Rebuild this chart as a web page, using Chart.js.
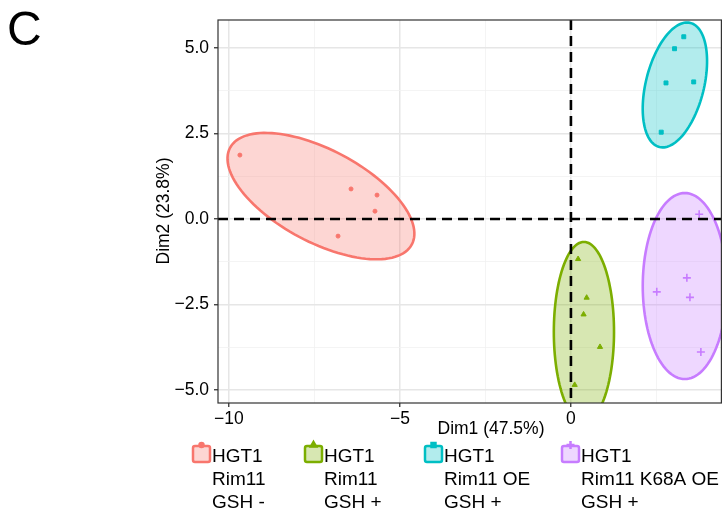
<!DOCTYPE html>
<html lang="en">
<head>
  <meta charset="UTF-8">
  <title>PCA individuals</title>
  <script src="https://cdn.jsdelivr.net/npm/chart.js"></script>
  <style>
    html, body {
      margin: 0;
      padding: 0;
      background: #fff;
      overflow: hidden;
    }
    .wrap {
      position: relative;
      width: 727px;
      height: 510px;
    }
    .panel-tag {
      position: absolute;
      left: 7px;
      top: 1px;
      font: 48px 'Liberation Sans', Arial, sans-serif;
      color: #000;
    }
    canvas { display: block; }
  </style>
</head>
<body>
  <div class="wrap">
    <div class="panel-tag">C</div>
    <canvas id="pca" width="727" height="510"></canvas>
  </div>

  <script>
    // Individuals (Dim1, Dim2) per group
    const rim11MinusX = [-9.68, -6.43, -5.67, -5.73, -6.81];
    const rim11MinusY = [1.87, 0.88, 0.70, 0.23, -0.50];
    const rim11PlusX  = [0.21, 0.46, 0.37, 0.85, 0.11];
    const rim11PlusY  = [-1.17, -2.30, -2.79, -3.74, -4.85];
    const rim11OEX    = [3.30, 3.03, 2.78, 3.59, 2.64];
    const rim11OEY    = [5.33, 4.98, 3.98, 4.01, 2.54];
    const k68aOEX     = [3.75, 3.39, 2.51, 3.48, 3.80];
    const k68aOEY     = [0.14, -1.72, -2.13, -2.29, -3.89];

    // Confidence ellipses: centre, semi-axes, angle of major axis (deg)
    const ellipseCx    = [-7.31, 0.38, 3.04, 3.33];
    const ellipseCy    = [0.67, -3.30, 3.92, -1.96];
    const ellipseA     = [3.01, 2.63, 1.87, 2.72];
    const ellipseB     = [1.35, 0.88, 0.85, 1.23];
    const ellipseAngle = [-28, 90, 76, 90];

    const legendLines = [
      ['HGT1', 'Rim11', 'GSH -'],
      ['HGT1', 'Rim11', 'GSH +'],
      ['HGT1', 'Rim11 OE', 'GSH +'],
      ['HGT1', 'Rim11 K68A OE', 'GSH +']
    ];

    const xTicks = [-10, -7.5, -5, -2.5, 0, 2.5];
    const xMajor = [-10, -5, 0];
    const xTickLabels = ['\u221210', '\u22125', '0'];
    const yTicks = [-5, -3.75, -2.5, -1.25, 0, 1.25, 2.5, 3.75, 5];
    const yMajor = [-5, -2.5, 0, 2.5, 5];
    const yTickLabels = ['\u22125.0', '\u22122.5', '0.0', '2.5', '5.0'];

    const colors = ['#F8766D', '#7CAE00', '#00BFC4', '#C77CFF'];
    const fills = ['rgba(248,118,109,0.3)', 'rgba(124,174,0,0.3)', 'rgba(0,191,196,0.3)', 'rgba(199,124,255,0.3)'];
    const styles = ['circle', 'triangle', 'rect', 'cross'];
    const radii = [2, 3, 2.8, 4];

    const FONT = "'Liberation Sans', Arial, Helvetica, sans-serif";

    const toPts = (xs, ys) => xs.map((x, i) => ({ x: x, y: ys[i] }));
    const seriesX = [rim11MinusX, rim11PlusX, rim11OEX, k68aOEX];
    const seriesY = [rim11MinusY, rim11PlusY, rim11OEY, k68aOEY];

    const datasets = seriesX.map((xs, i) => ({
      label: legendLines[i].join(' '),
      data: toPts(xs, seriesY[i]),
      pointStyle: styles[i],
      pointRadius: radii[i],
      pointBackgroundColor: colors[i],
      pointBorderColor: colors[i],
      pointBorderWidth: i === 3 ? 1.6 : 1
    }));

    const legendX = [193, 305, 425, 562];

    const decor = {
      id: 'pcaDecor',
      beforeDatasetsDraw(chart) {
        const { ctx, chartArea: a, scales: { x, y } } = chart;
        ctx.save();
        ctx.beginPath();
        ctx.rect(a.left, a.top, a.right - a.left, a.bottom - a.top);
        ctx.clip();
        for (let g = 0; g < ellipseCx.length; g++) {
          const th = ellipseAngle[g] * Math.PI / 180;
          ctx.beginPath();
          for (let k = 0; k <= 120; k++) {
            const t = k / 120 * 2 * Math.PI;
            const dx = ellipseA[g] * Math.cos(t) * Math.cos(th) - ellipseB[g] * Math.sin(t) * Math.sin(th);
            const dy = ellipseA[g] * Math.cos(t) * Math.sin(th) + ellipseB[g] * Math.sin(t) * Math.cos(th);
            const px = x.getPixelForValue(ellipseCx[g] + dx);
            const py = y.getPixelForValue(ellipseCy[g] + dy);
            if (k === 0) ctx.moveTo(px, py); else ctx.lineTo(px, py);
          }
          ctx.closePath();
          ctx.fillStyle = fills[g];
          ctx.fill();
          ctx.lineWidth = 2.6;
          ctx.strokeStyle = colors[g];
          ctx.stroke();
        }
        ctx.restore();
      },
      afterDatasetsDraw(chart) {
        const { ctx, chartArea: a, scales: { x, y } } = chart;
        ctx.save();
        ctx.strokeStyle = '#000';
        ctx.lineWidth = 2.6;
        ctx.setLineDash([10, 6]);
        const y0 = y.getPixelForValue(0);
        const x0 = x.getPixelForValue(0);
        ctx.beginPath();
        ctx.moveTo(a.left, y0);
        ctx.lineTo(a.right, y0);
        ctx.moveTo(x0, a.top);
        ctx.lineTo(x0, a.bottom);
        ctx.stroke();
        ctx.setLineDash([]);
        ctx.lineWidth = 1.2;
        ctx.strokeStyle = '#333';
        ctx.strokeRect(a.left, a.top, a.right - a.left, a.bottom - a.top);
        ctx.restore();
      },
      afterDraw(chart) {
        const { ctx } = chart;
        ctx.save();
        ctx.fillStyle = '#000';
        ctx.font = '17.5px ' + FONT;
        ctx.textAlign = 'center';
        ctx.textBaseline = 'middle';
        ctx.fillText('Dim1 (47.5%)', 491, 429);
        ctx.translate(164, 211);
        ctx.rotate(-Math.PI / 2);
        ctx.fillText('Dim2 (23.8%)', 0, 0);
        ctx.restore();

        // legend
        ctx.save();
        for (let i = 0; i < legendLines.length; i++) {
          const kx = legendX[i];
          ctx.beginPath();
          ctx.roundRect(kx, 446, 17, 16, 2);
          ctx.fillStyle = fills[i];
          ctx.fill();
          ctx.lineWidth = 2.5;
          ctx.strokeStyle = colors[i];
          ctx.stroke();
          ctx.fillStyle = colors[i];
          Chart.helpers.drawPoint(ctx, {
            pointStyle: styles[i], radius: radii[i], borderWidth: i === 3 ? 1.6 : 1
          }, kx + 8.5, 445);
          ctx.fillStyle = '#000';
          ctx.font = '19px ' + FONT;
          ctx.textAlign = 'left';
          ctx.textBaseline = 'alphabetic';
          legendLines[i].forEach((line, j) => {
            ctx.fillText(line, kx + 19, 461.5 + j * 23);
          });
        }
        ctx.restore();
      }
    };

    const config = {
      type: 'scatter',
      data: { datasets: datasets },
      options: {
        responsive: false,
        animation: false,
        layout: { padding: { left: 0, top: 20, right: 5, bottom: 0 } },
        plugins: {
          legend: { display: false },
          tooltip: { enabled: false }
        },
        scales: {
          x: {
            type: 'linear',
            min: -10.32,
            max: 4.40,
            afterBuildTicks: (scale) => { scale.ticks = xTicks.map(v => ({ value: v })); },
            afterFit: (scale) => { scale.height = 107; },
            border: { display: false },
            grid: {
              color: ctx => xMajor.includes(ctx.tick && ctx.tick.value) ? '#e6e6e6' : '#f1f1f1',
              lineWidth: ctx => xMajor.includes(ctx.tick && ctx.tick.value) ? 1.5 : 0.8,
              tickColor: ctx => xMajor.includes(ctx.tick && ctx.tick.value) ? '#333' : 'rgba(0,0,0,0)',
              tickWidth: 1.3,
              tickLength: 4
            },
            ticks: {
              autoSkip: false,
              maxRotation: 0,
              padding: 2,
              color: '#000',
              font: { family: FONT, size: 17.5 },
              callback: (v) => { const i = xMajor.indexOf(v); return i >= 0 ? xTickLabels[i] : ''; }
            }
          },
          y: {
            type: 'linear',
            min: -5.38,
            max: 5.82,
            afterBuildTicks: (scale) => { scale.ticks = yTicks.map(v => ({ value: v })); },
            afterFit: (scale) => { scale.width = 218; },
            border: { display: false },
            grid: {
              color: ctx => yMajor.includes(ctx.tick && ctx.tick.value) ? '#e6e6e6' : '#f1f1f1',
              lineWidth: ctx => yMajor.includes(ctx.tick && ctx.tick.value) ? 1.5 : 0.8,
              tickColor: ctx => yMajor.includes(ctx.tick && ctx.tick.value) ? '#333' : 'rgba(0,0,0,0)',
              tickWidth: 1.3,
              tickLength: 4
            },
            ticks: {
              autoSkip: false,
              padding: 5,
              color: '#000',
              font: { family: FONT, size: 17.5 },
              callback: (v) => { const i = yMajor.indexOf(v); return i >= 0 ? yTickLabels[i] : ''; }
            }
          }
        }
      },
      plugins: [decor]
    };

    const chart = new Chart(document.getElementById('pca').getContext('2d'), config);
  </script>
</body>
</html>
